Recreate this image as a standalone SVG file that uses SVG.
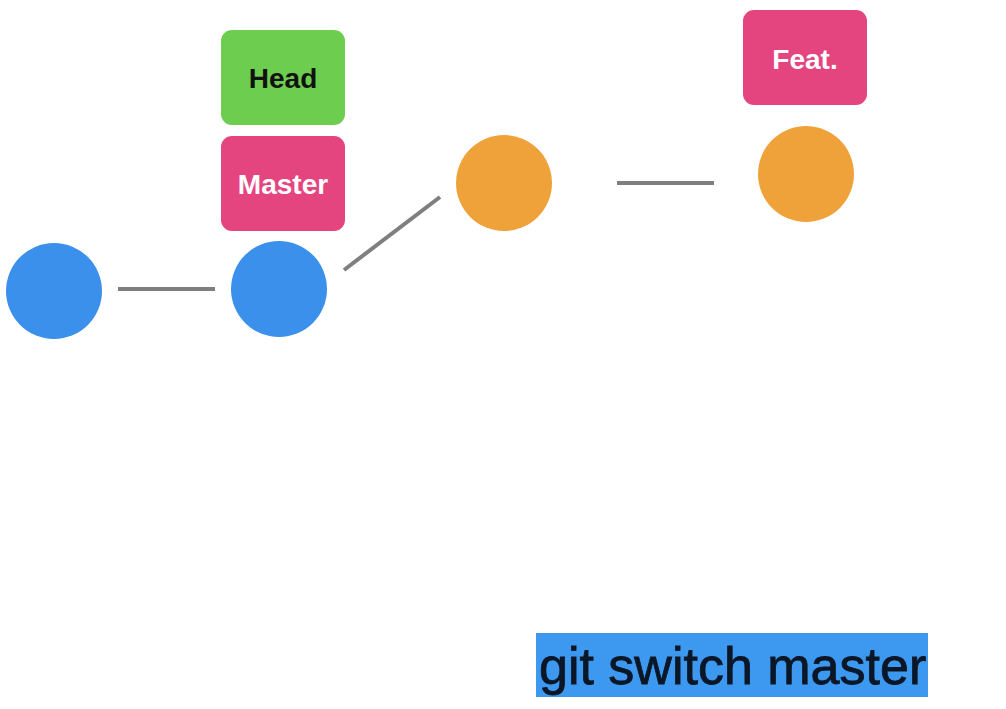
<svg xmlns="http://www.w3.org/2000/svg" width="1006" height="709" viewBox="0 0 1006 709">
<style>
.blue{fill:#3a90ea}
.orange{fill:#f0a23a}
.pink{fill:#e4457f}
.green{fill:#6ccd4e}
.lbl{font-family:"Liberation Sans",Arial,sans-serif;font-weight:bold;font-size:28px;text-anchor:middle}
.edge{stroke:#7f7f7f;stroke-width:4;fill:none}
</style>
<rect width="1006" height="709" fill="#ffffff"/>
<g id="connectors">
<line class="edge" x1="118" y1="289" x2="215" y2="289"/>
<line class="edge" x1="344" y1="270" x2="440" y2="197"/>
<line class="edge" x1="617" y1="183" x2="714" y2="183"/>
</g>
<g id="c1"><circle class="blue" cx="54" cy="291" r="48"/></g>
<g id="c2"><circle class="blue" cx="279" cy="289" r="48"/></g>
<g id="c3"><circle class="orange" cx="504" cy="183" r="48"/></g>
<g id="c4"><circle class="orange" cx="806" cy="174" r="48"/></g>
<g id="head"><rect class="green" x="221" y="30" width="124" height="95" rx="11"/><text class="lbl" x="283" y="88" fill="#111">Head</text></g>
<g id="master"><rect class="pink" x="221" y="136" width="124" height="95" rx="11"/><text class="lbl" x="283" y="194" fill="#fff">Master</text></g>
<g id="feat"><rect class="pink" x="743" y="10" width="124" height="95" rx="11"/><text class="lbl" x="805" y="69" fill="#fff">Feat.</text></g>
<g id="command"><rect x="536" y="633" width="392" height="64" fill="#3d98f0"/><text x="539" y="684" font-family="Liberation Sans,Arial,sans-serif" font-size="52" fill="#0b1626" stroke="#0b1626" stroke-width="0.8">git switch master</text></g>
</svg>
